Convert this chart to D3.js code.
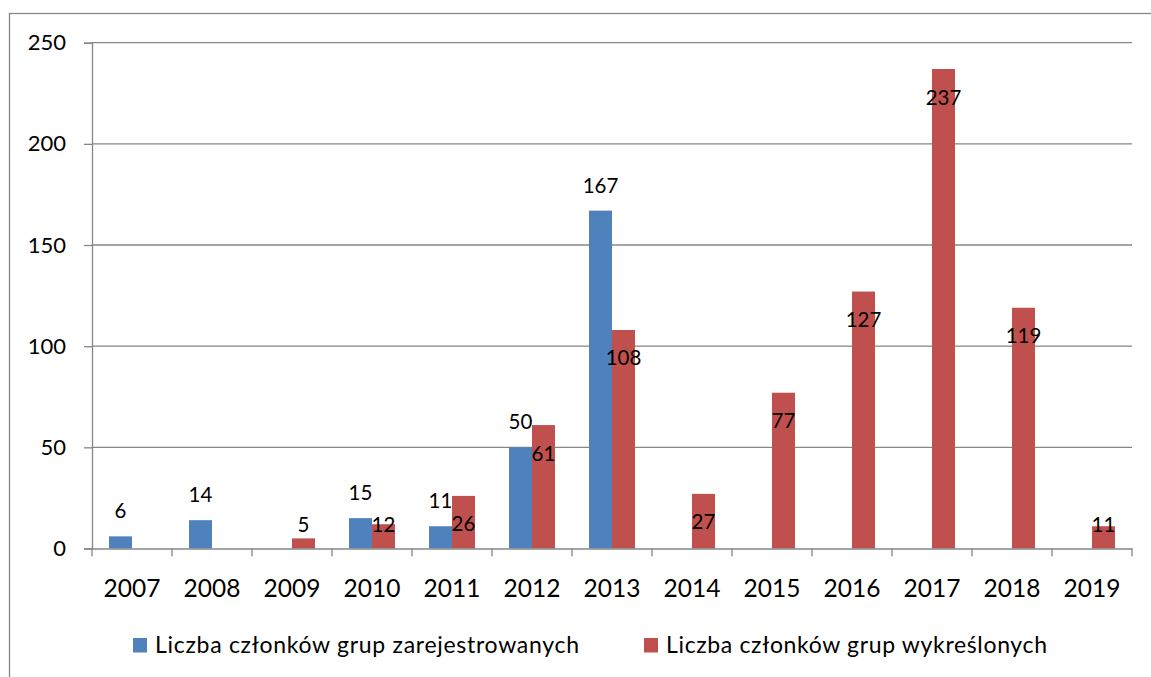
<!DOCTYPE html>
<html>
<head>
<meta charset="utf-8">
<script src="https://cdn.jsdelivr.net/npm/d3@7"></script>
<style>
  html, body { margin: 0; padding: 0; background: #fff; }
  svg text { font-family: Lato, "Liberation Sans", sans-serif; fill: #000; }
</style>
</head>
<body>
<svg id="chart" width="1151" height="677"></svg>
<script>
// Members of groups registered / struck off, per year
const years = ["2007","2008","2009","2010","2011","2012","2013","2014","2015","2016","2017","2018","2019"];
const registered = [6, 14, null, 15, 11, 50, 167, null, null, null, null, null, null];
const removed    = [null, null, 5, 12, 26, 61, 108, 27, 77, 127, 237, 119, 11];
const seriesNames = ["Liczba członków grup zarejestrowanych", "Liczba członków grup wykreślonych"];
const seriesColors = ["#4F81BD", "#C0504D"];
const yTicks = [0, 50, 100, 150, 200, 250];

const svg = d3.select("#chart");
const gridColor = "#868686";

// outer chart frame
svg.append("rect")
  .attr("x", 9.5).attr("y", 13.5)
  .attr("width", 1300).attr("height", 900)
  .attr("fill", "none").attr("stroke", gridColor).attr("stroke-width", 1.3);

const plot = { left: 92, right: 1132, top: 42.7, bottom: 548.5 };

const x = d3.scaleBand().domain(years).range([plot.left, plot.right]).paddingInner(0).paddingOuter(0);
const xs = d3.scaleBand().domain([0, 1]).range([0, x.bandwidth()]).paddingInner(0).paddingOuter(0.74);
const y = d3.scaleLinear().domain([0, 250]).range([plot.bottom, plot.top]);

// value axis with tick marks
const yAxis = d3.axisLeft(y).tickValues(yTicks).tickSize(8).tickPadding(18);
const gy = svg.append("g").attr("transform", `translate(${plot.left},0)`).call(yAxis);
gy.select(".domain").attr("stroke", gridColor).attr("stroke-width", 1.3);
gy.selectAll(".tick line").attr("stroke", gridColor).attr("stroke-width", 1.3);
gy.selectAll(".tick text").style("font-size", "22px").attr("fill", "#000");

// horizontal gridlines
svg.append("g").selectAll("line").data(yTicks.filter(d => d > 0)).join("line")
  .attr("x1", plot.left).attr("x2", plot.right)
  .attr("y1", d => y(d)).attr("y2", d => y(d))
  .attr("stroke", gridColor).attr("stroke-width", 1.3);

// bars
const series = [registered, removed];
series.forEach((vals, si) => {
  svg.append("g").selectAll("rect")
    .data(years.map((yr, i) => ({ yr, v: vals[i] })).filter(d => d.v !== null))
    .join("rect")
    .attr("x", d => x(d.yr) + xs(si))
    .attr("width", xs.bandwidth())
    .attr("y", d => y(d.v))
    .attr("height", d => y(0) - y(d.v))
    .attr("fill", seriesColors[si]);
});

// category axis (drawn over the bars' feet)
const xAxis = d3.axisBottom(x).tickSize(0).tickPadding(0);
const gx = svg.append("g").attr("transform", `translate(0,${plot.bottom})`).call(xAxis);
gx.select(".domain").attr("stroke", gridColor).attr("stroke-width", 1.3);
gx.selectAll(".tick text").style("font-size", "24.5px").attr("fill", "#000")
  .attr("dy", null).attr("y", 48);
// tick marks at category boundaries
svg.append("g").selectAll("line")
  .data(years.map(yr => x(yr)).concat([plot.right]))
  .join("line")
  .attr("x1", d => d).attr("x2", d => d)
  .attr("y1", plot.bottom).attr("y2", plot.bottom + 8)
  .attr("stroke", gridColor).attr("stroke-width", 1.3);

// value labels: registered above the bar, removed just inside the top
const labelFont = "20.5px";
svg.append("g").selectAll("text")
  .data(years.map((yr, i) => ({ yr, v: registered[i] })).filter(d => d.v !== null))
  .join("text")
  .attr("x", d => x(d.yr) + xs(0) + xs.bandwidth() / 2)
  .attr("y", d => y(d.v) - 18)
  .attr("text-anchor", "middle")
  .style("font-size", labelFont)
  .text(d => d.v);

svg.append("g").selectAll("text")
  .data(years.map((yr, i) => ({ yr, v: removed[i] })).filter(d => d.v !== null))
  .join("text")
  .attr("x", d => x(d.yr) + xs(1) + xs.bandwidth() / 2)
  .attr("y", d => Math.min(y(d.v) + 35.5, y(0) - 16.5))
  .attr("text-anchor", "middle")
  .style("font-size", labelFont)
  .text(d => d.v);

// legend
const legendX = [133, 644];
const legendTextWidth = [424, 381];
const legend = svg.append("g");
seriesNames.forEach((name, i) => {
  legend.append("rect")
    .attr("x", legendX[i]).attr("y", 638)
    .attr("width", 14).attr("height", 14.5)
    .attr("fill", seriesColors[i]);
  legend.append("text")
    .attr("x", legendX[i] + 22).attr("y", 653)
    .style("font-size", "23px")
    .attr("textLength", legendTextWidth[i])
    .attr("lengthAdjust", "spacing")
    .text(name);
});
</script>
</body>
</html>
